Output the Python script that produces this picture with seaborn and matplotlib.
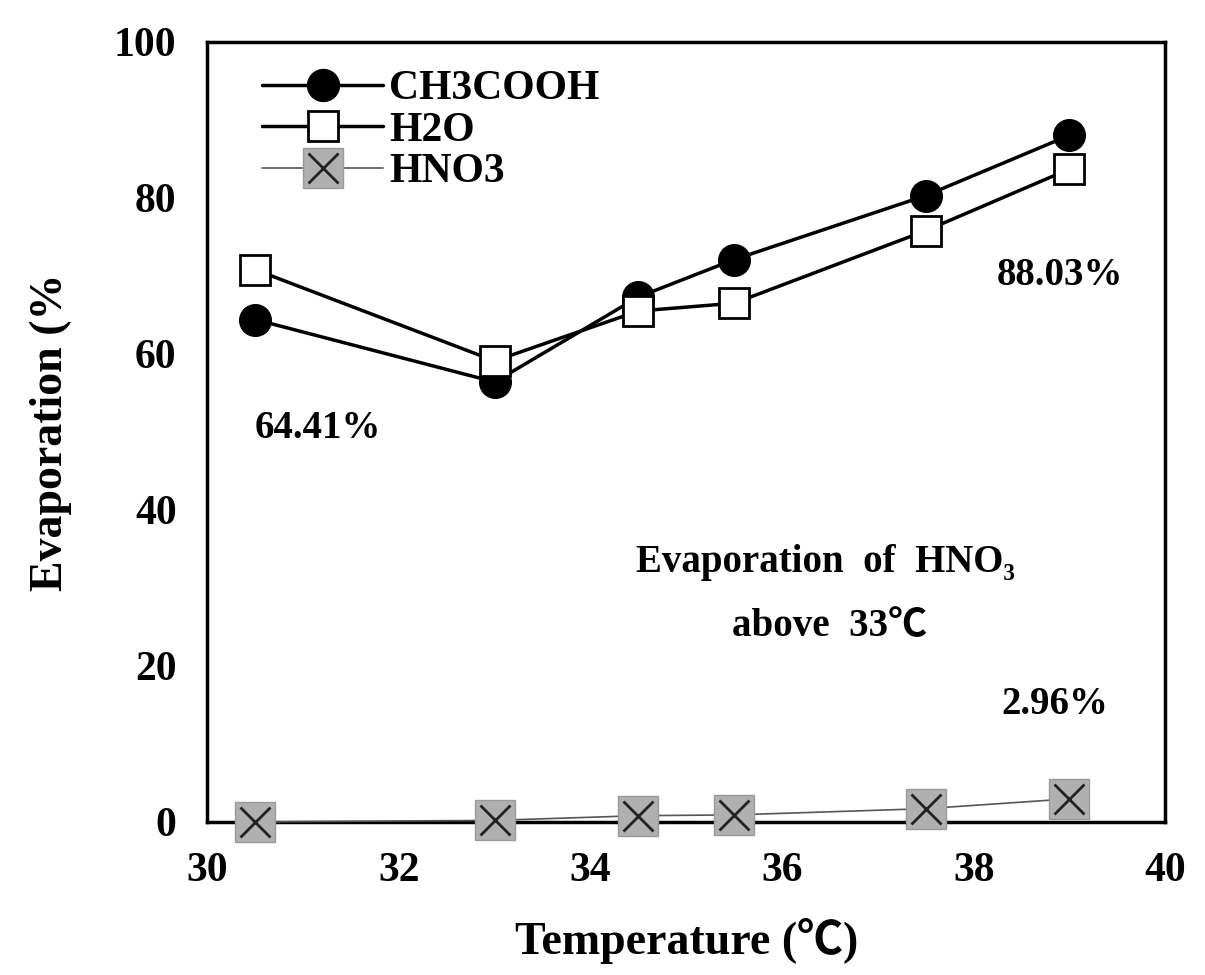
import matplotlib
matplotlib.use("Agg")
import matplotlib.pyplot as plt
import seaborn as sns
import pandas as pd
from matplotlib.lines import Line2D
from matplotlib.legend_handler import HandlerTuple

sns.set_theme(style="white")
plt.rcParams['font.family'] = ['Liberation Serif', 'Noto Sans CJK SC', 'DejaVu Serif']
plt.rcParams['font.weight'] = 'bold'
plt.rcParams['text.color'] = 'black'
plt.rcParams['axes.labelcolor'] = 'black'

# 数据
temperature = [30.5, 33.0, 34.5, 35.5, 37.5, 39.0]
ch3cooh = [64.41, 56.4, 67.3, 72.1, 80.3, 88.03]
h2o = [70.8, 59.1, 65.5, 66.5, 75.8, 83.7]
hno3 = [0.0, 0.2, 0.8, 0.9, 1.7, 2.96]

xticks = [30, 32, 34, 36, 38, 40]
yticks = [0, 20, 40, 60, 80, 100]

df = pd.DataFrame({'T': temperature, 'CH3COOH': ch3cooh, 'H2O': h2o, 'HNO3': hno3})

fig = plt.figure(figsize=(12.05, 9.75), dpi=100)
ax = fig.add_axes([0.172, 0.157, 0.795, 0.8])

# HNO3
sns.lineplot(data=df, x='T', y='HNO3', ax=ax, color='#555555', linewidth=1.2,
             marker='s', markersize=29, markerfacecolor='#b0b0b0',
             markeredgecolor='#9a9a9a', markeredgewidth=1, zorder=6, clip_on=False)
sns.lineplot(data=df, x='T', y='HNO3', ax=ax, linestyle='none',
             marker='x', markersize=22, markeredgecolor='#222222',
             markeredgewidth=2, zorder=7, clip_on=False)

# H2O
sns.lineplot(data=df, x='T', y='H2O', ax=ax, color='black', linewidth=2.5,
             marker='s', markersize=22, markerfacecolor='white',
             markeredgecolor='black', markeredgewidth=2, zorder=5)

# CH3COOH
sns.lineplot(data=df, x='T', y='CH3COOH', ax=ax, color='black', linewidth=2.5,
             marker='o', markersize=23, markerfacecolor='black',
             markeredgecolor='black', zorder=4)

ax.set_xlim(30, 40)
ax.set_ylim(0, 100)
ax.set_xticks(xticks)
ax.set_yticks(yticks)
ax.tick_params(axis='both', labelsize=30, direction='in', length=4, width=1,
               pad=22, colors='black')
for lab in ax.get_xticklabels() + ax.get_yticklabels():
    lab.set_fontweight('bold')

for s in ax.spines.values():
    s.set_visible(True)
    s.set_color('black')
    s.set_linewidth(2.5)

ax.set_xlabel('Temperature (℃)', fontsize=33, fontweight='bold', labelpad=20)
ax.set_ylabel('Evaporation (%', fontsize=33, fontweight='bold', labelpad=30)

# 注释
ax.text(31.15, 50.5, '64.41%', fontsize=28, fontweight='bold', ha='center', va='center')
ax.text(38.9, 70.1, '88.03%', fontsize=28, fontweight='bold', ha='center', va='center')
ax.text(38.85, 15.0, '2.96%', fontsize=28, fontweight='bold', ha='center', va='center')
ax.text(36.45, 33.3, 'Evaporation  of  HNO₃', fontsize=28, fontweight='bold',
        ha='center', va='center')
ax.text(36.5, 25.0, 'above  33℃', fontsize=28, fontweight='bold', ha='center', va='center')

# 图例
h1 = Line2D([], [], color='black', lw=2.5, marker='o', markersize=23,
            markerfacecolor='black')
h2 = Line2D([], [], color='black', lw=2.5, marker='s', markersize=22,
            markerfacecolor='white', markeredgewidth=2)
h3a = Line2D([], [], color='#555555', lw=1.2, marker='s', markersize=29,
             markerfacecolor='#b0b0b0', markeredgecolor='#9a9a9a')
h3b = Line2D([], [], linestyle='none', marker='x', markersize=22,
             markeredgecolor='#222222', markeredgewidth=2)
ax.legend([h1, h2, (h3a, h3b)], ['CH3COOH', 'H2O', 'HNO3'],
          handler_map={tuple: HandlerTuple(ndivide=1, pad=0)},
          loc='upper left', bbox_to_anchor=(0.04, 0.985), frameon=False,
          prop={'size': 30, 'weight': 'bold'}, handlelength=2.9,
          handletextpad=0.15, labelspacing=0.08, borderaxespad=0)

fig.savefig('out.png', dpi=100)
